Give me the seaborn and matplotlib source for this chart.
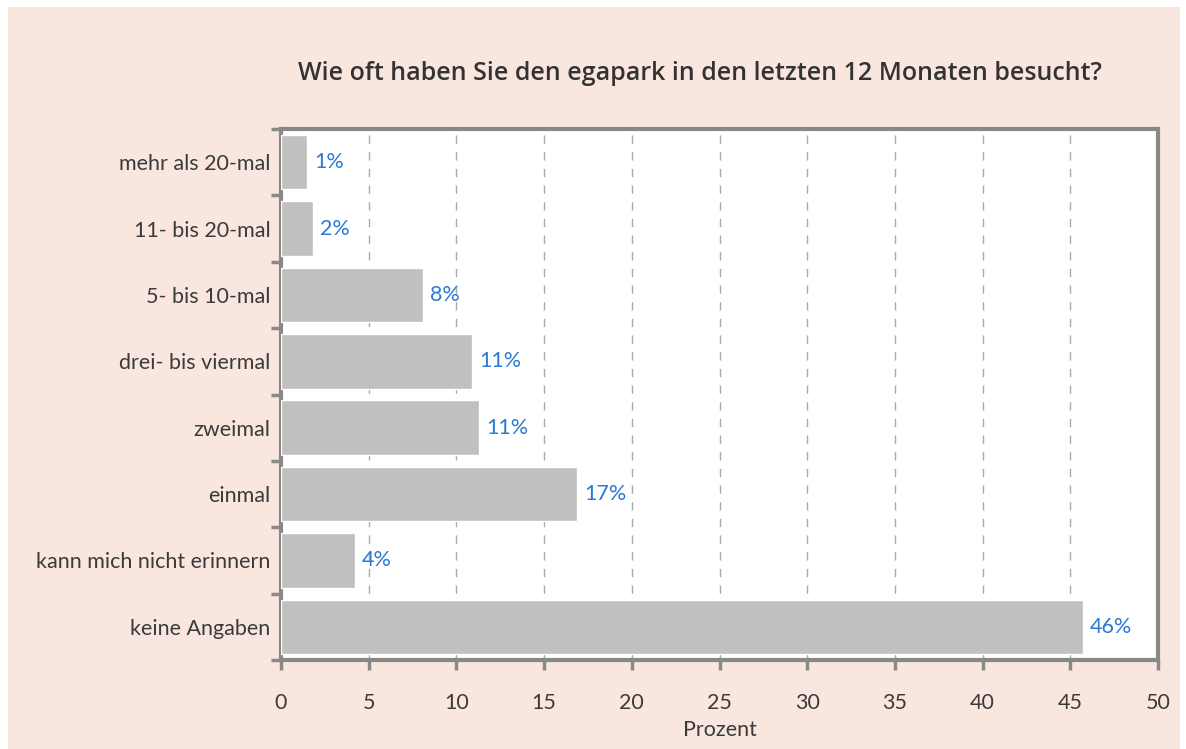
import matplotlib
matplotlib.use("Agg")
import matplotlib.pyplot as plt
import seaborn as sns
import pandas as pd
from matplotlib.patches import Rectangle

# Data
categories = ["mehr als 20-mal", "11- bis 20-mal", "5- bis 10-mal", "drei- bis viermal",
              "zweimal", "einmal", "kann mich nicht erinnern", "keine Angaben"]
values = [1.5, 1.8, 8.1, 10.9, 11.3, 16.9, 4.2, 45.7]
labels = ["1%", "2%", "8%", "11%", "11%", "17%", "4%", "46%"]

df = pd.DataFrame({"cat": categories, "val": values})

sns.set_theme(style="white")
plt.rcParams["font.family"] = ["Lato", "DejaVu Sans"]

fig = plt.figure(figsize=(11.86, 7.49), dpi=100, facecolor="white")
fig.patches.append(Rectangle((8 / 1186, 0), 1172 / 1186, 742 / 749,
                             transform=fig.transFigure, facecolor="#f9e7df",
                             edgecolor="none", zorder=-10))
ax = fig.add_axes([281 / 1186, 1 - 660 / 749, 877 / 1186, 531 / 749])
ax.set_facecolor("white")

sns.barplot(data=df, y="cat", x="val", color="#c0c0c0", saturation=1,
            width=0.82, orient="h", ax=ax, zorder=3)

# value labels next to bar ends
for i, (v, lab) in enumerate(zip(values, labels)):
    ax.text(v + 0.4, i, lab, va="center", ha="left", color="#2a7ad4", fontsize=15.5, zorder=4)

ax.set_xlim(0, 50)
ax.set_ylim(len(categories) - 0.5, -0.5)
ax.set_xticks(range(0, 51, 5))
ax.set_xticklabels([str(t) for t in range(0, 51, 5)], fontsize=15.5, color="#3a3a3a")
ax.set_yticks(range(len(categories)))
ax.set_yticklabels(categories, fontsize=15.5, color="#3a3a3a")
ax.set_yticks([i - 0.5 for i in range(len(categories) + 1)], minor=True)

ax.tick_params(axis="y", which="major", left=False, pad=1.5)
ax.tick_params(axis="y", which="minor", left=True, length=7, width=2.5, color="#888888",
               direction="out")
ax.tick_params(axis="x", which="major", bottom=True, length=7, width=2.5, color="#888888",
               direction="out", pad=17)

for x in range(5, 50, 5):
    ax.axvline(x, color="#aaaaaa", linestyle=(0, (6, 6)), linewidth=1, zorder=1)

for s in ax.spines.values():
    s.set_visible(True)
    s.set_color("#888888")
    s.set_linewidth(3)

ax.set_xlabel("Prozent", fontsize=15.5, color="#3a3a3a", labelpad=5)
ax.set_ylabel("")

fig.text(700 / 1186, 1 - 73 / 749, "Wie oft haben Sie den egapark in den letzten 12 Monaten besucht?",
         ha="center", va="center", fontsize=18, fontweight="semibold", color="#333333",
         family=["Open Sans", "DejaVu Sans"])

fig.savefig("out.png", dpi=100, facecolor="white")
